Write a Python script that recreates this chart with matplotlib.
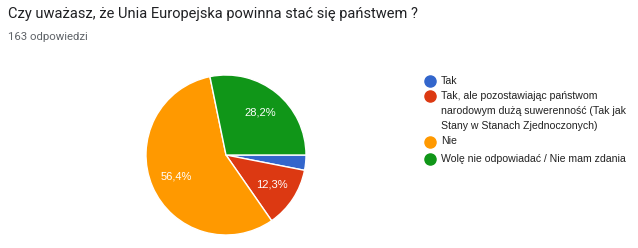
import matplotlib
matplotlib.use("Agg")
import matplotlib.pyplot as plt

# dane z ankiety
labels = [
    "Tak",
    "Tak, ale pozostawiając państwom\nnarodowym dużą suwerenność (Tak jak\nStany w Stanach Zjednoczonych)",
    "Nie",
    "Wolę nie odpowiadać / Nie mam zdania",
]
counts = [5, 20, 92, 46]
colors = ["#3366CC", "#DC3912", "#FF9900", "#109618"]
title = "Czy uważasz, że Unia Europejska powinna stać się państwem ?"
subtitle = "163 odpowiedzi"

W, H = 638, 248
fig = plt.figure(figsize=(W / 100, H / 100), dpi=100)
fig.patch.set_facecolor("white")

# pie: srodek (226,155), promien 80 px
cx, cy, r = 226, 155, 80
ax = fig.add_axes([(cx - r) / W, (H - cy - r) / H, 2 * r / W, 2 * r / H])


def pct_fmt(p):
    if p < 5:
        return ""
    return f"{p:.1f}%".replace(".", ",")


wedges, _, autotexts = ax.pie(
    counts, colors=colors, startangle=0, counterclock=False,
    autopct=pct_fmt, pctdistance=0.68, radius=1,
    wedgeprops=dict(edgecolor="white", linewidth=1),
    textprops=dict(color="white", fontsize=8, family=["Liberation Sans", "DejaVu Sans"]),
)
ax.set_xlim(-1, 1)
ax.set_ylim(-1, 1)
ax.set_aspect("equal")
ax.axis("off")

# tytul
fig.text(8 / W, 1 - 14 / H, title, fontsize=10.5, color="#202124",
         family=["Roboto", "DejaVu Sans"], va="center", ha="left")
fig.text(8 / W, 1 - 37 / H, subtitle, fontsize=8.2, color="#5f6368",
         family=["Roboto", "DejaVu Sans"], va="center", ha="left")

# legenda
ov = fig.add_axes([0, 0, 1, 1])
ov.set_xlim(0, W)
ov.set_ylim(H, 0)
ov.axis("off")
leg_y = [81, 96, 141.5, 158.5]
line_h = 15
for lab, col, y in zip(labels, colors, leg_y):
    ov.plot([430], [y], marker="o", markersize=8, color=col, linestyle="none")
    for i, line in enumerate(lab.split("\n")):
        ov.text(441, y + i * line_h, line, fontsize=7.6, color="#222222",
                family=["Liberation Sans", "DejaVu Sans"], va="center", ha="left")

fig.savefig("out.png", dpi=100)
